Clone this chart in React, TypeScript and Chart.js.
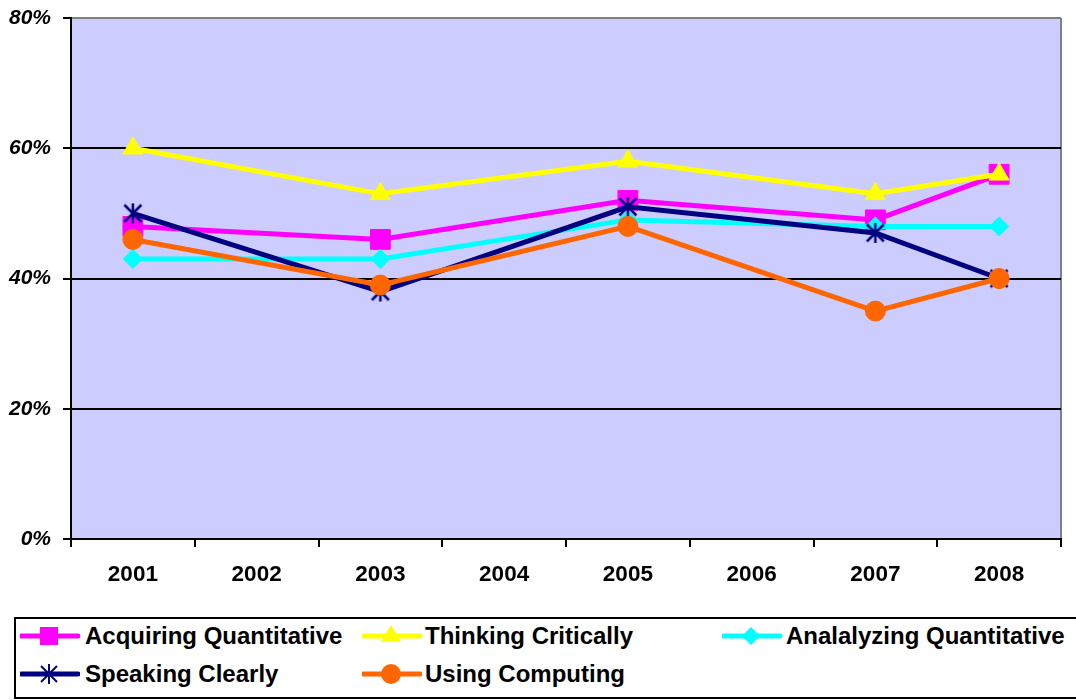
import React, { useEffect, useRef } from "react";
import { Chart, registerables } from "chart.js";
Chart.register(...registerables);

const years = ["2001", "2002", "2003", "2004", "2005", "2006", "2007", "2008"];
const acquiring = [48, null, 46, null, 52, null, 49, 56];
const thinking = [60, null, 53, null, 58, null, 53, 56];
const analyzing = [43, null, 43, null, 49, null, 48, 48];
const speaking = [50, null, 38, null, 51, null, 47, 40];
const computing = [46, null, 39, null, 48, null, 35, 40];
const seriesNames = [
  "Acquiring Quantitative",
  "Thinking Critically",
  "Analalyzing Quantitative",
  "Speaking Clearly",
  "Using Computing",
];
const yMin = 0;
const yMax = 80;
const yStep = 20;

const colors = ["#FF00FF", "#FFFF00", "#00FFFF", "#000080", "#FF6600"];
const FONT = "'Liberation Sans', Arial, Helvetica, sans-serif";

function makeStar(size: number, color: string) {
  const c = document.createElement("canvas");
  c.width = size;
  c.height = size;
  const ctx = c.getContext("2d")!;
  ctx.strokeStyle = color;
  ctx.lineWidth = 2.5;
  const h = size / 2;
  const r = size / 2 - 1;
  const d = r * 0.85;
  ctx.beginPath();
  ctx.moveTo(h, h - r);
  ctx.lineTo(h, h + r);
  ctx.moveTo(h - d, h - d);
  ctx.lineTo(h + d, h + d);
  ctx.moveTo(h + d, h - d);
  ctx.lineTo(h - d, h + d);
  ctx.stroke();
  return c;
}

const bgPlugin = {
  id: "bgPlugin",
  beforeDraw(chart: any) {
    const { ctx, chartArea } = chart;
    ctx.save();
    ctx.fillStyle = "#CCCCFF";
    ctx.fillRect(chartArea.left, chartArea.top, chartArea.right - chartArea.left, chartArea.bottom - chartArea.top);
    ctx.strokeStyle = "#808080";
    ctx.lineWidth = 2;
    ctx.beginPath();
    ctx.moveTo(chartArea.right, chartArea.top);
    ctx.lineTo(chartArea.right, chartArea.bottom);
    ctx.stroke();
    ctx.restore();
  },
};

function Symbol({ idx }: { idx: number }) {
  const col = colors[idx];
  const cx = 29;
  const cy = 12;
  let marker: any = null;
  if (idx === 0) marker = <rect x={cx - 9} y={cy - 9} width={18} height={18} fill={col} />;
  if (idx === 1) marker = <polygon points={`${cx},${cy - 11} ${cx + 10},${cy + 6} ${cx - 10},${cy + 6}`} fill={col} />;
  if (idx === 2) marker = <polygon points={`${cx},${cy - 9} ${cx + 9},${cy} ${cx},${cy + 9} ${cx - 9},${cy}`} fill={col} />;
  if (idx === 3)
    marker = (
      <g stroke={col} strokeWidth={2}>
        <line x1={cx} y1={cy - 10} x2={cx} y2={cy + 10} />
        <line x1={cx - 8} y1={cy - 8} x2={cx + 8} y2={cy + 8} />
        <line x1={cx + 8} y1={cy - 8} x2={cx - 8} y2={cy + 8} />
      </g>
    );
  if (idx === 4) marker = <circle cx={cx} cy={cy} r={10} fill={col} />;
  return (
    <svg width={60} height={24} style={{ display: "block" }}>
      <line x1={1} y1={cy} x2={58} y2={cy} stroke={col} strokeWidth={5} strokeLinecap="round" />
      {marker}
    </svg>
  );
}

export default function App() {
  const ref = useRef<HTMLCanvasElement>(null);
  useEffect(() => {
    const star = makeStar(22, colors[3]);
    const allData = [acquiring, thinking, analyzing, speaking, computing];
    const styles: any[] = ["rect", "triangle", "rectRot", star, "circle"];
    const radii = [14, 11.5, 9.5, 11, 10];
    const chart = new Chart(ref.current!, {
      type: "line",
      data: {
        labels: years,
        datasets: allData.map((d, i) => ({
          label: seriesNames[i],
          data: d,
          borderColor: colors[i],
          backgroundColor: colors[i],
          pointBackgroundColor: colors[i],
          pointBorderColor: colors[i],
          pointBorderWidth: 1,
          borderWidth: 5,
          pointStyle: styles[i],
          pointRadius: radii[i],
          spanGaps: true,
          tension: 0,
          order: 5 - i,
        })),
      },
      options: {
        animation: false,
        responsive: false,
        maintainAspectRatio: false,
        layout: { padding: { top: 18, right: 14, left: 0, bottom: 0 } },
        plugins: { legend: { display: false }, tooltip: { enabled: false } },
        scales: {
          x: {
            offset: true,
            grid: {
              offset: true,
              drawOnChartArea: false,
              drawTicks: true,
              tickLength: 8,
              color: "#000",
              tickColor: "#000",
              lineWidth: 2,
            },
            border: { color: "#000", width: 2 },
            ticks: {
              color: "#000",
              padding: 14,
              font: { family: FONT, size: 22.5, weight: "bold" },
              maxRotation: 0,
            },
            afterFit: (s: any) => {
              s.height = 71;
              s.paddingLeft = 0;
              s.paddingRight = 0;
            },
          },
          y: {
            min: yMin,
            max: yMax,
            ticks: {
              stepSize: yStep,
              color: "#000",
              padding: 12,
              font: { family: FONT, size: 21, weight: "bold", style: "italic" },
              callback: (v: any) => v + "%",
            },
            grid: {
              color: (c: any) => (c.tick && c.tick.value === yMax ? "#808080" : "#000"),
              tickColor: "#000",
              lineWidth: 2,
              tickLength: 8,
            },
            border: { color: "#000", width: 2 },
            afterFit: (s: any) => {
              s.width = 71;
              s.paddingTop = 0;
              s.paddingBottom = 0;
            },
          },
        },
      },
      plugins: [bgPlugin],
    });
    return () => chart.destroy();
  }, []);

  const legendPos = [
    { sx: 20, tx: 85, cy: 636 },
    { sx: 362, tx: 425, cy: 636 },
    { sx: 722, tx: 786, cy: 636 },
    { sx: 20, tx: 85, cy: 674 },
    { sx: 362, tx: 425, cy: 674 },
  ];

  return (
    <div style={{ position: "absolute", left: 0, top: 0, width: 1076, height: 700, overflow: "hidden", background: "#fff" }}>
      <canvas ref={ref} width={1076} height={610} style={{ position: "absolute", left: 0, top: 0, width: 1076, height: 610 }} />
      <div
        style={{
          position: "absolute",
          left: 14,
          top: 617,
          width: 1070,
          height: 78,
          border: "2px solid #000",
          boxSizing: "content-box",
        }}
      />
      {seriesNames.map((n, i) => (
        <React.Fragment key={n}>
          <div style={{ position: "absolute", left: legendPos[i].sx, top: legendPos[i].cy - 12 }}>
            <Symbol idx={i} />
          </div>
          <span
            style={{
              position: "absolute",
              left: legendPos[i].tx,
              top: legendPos[i].cy - 14,
              height: 28,
              lineHeight: "28px",
              fontFamily: FONT,
              fontWeight: "bold",
              fontSize: 24,
              color: "#000",
              whiteSpace: "nowrap",
            }}
          >
            {n}
          </span>
        </React.Fragment>
      ))}
    </div>
  );
}
